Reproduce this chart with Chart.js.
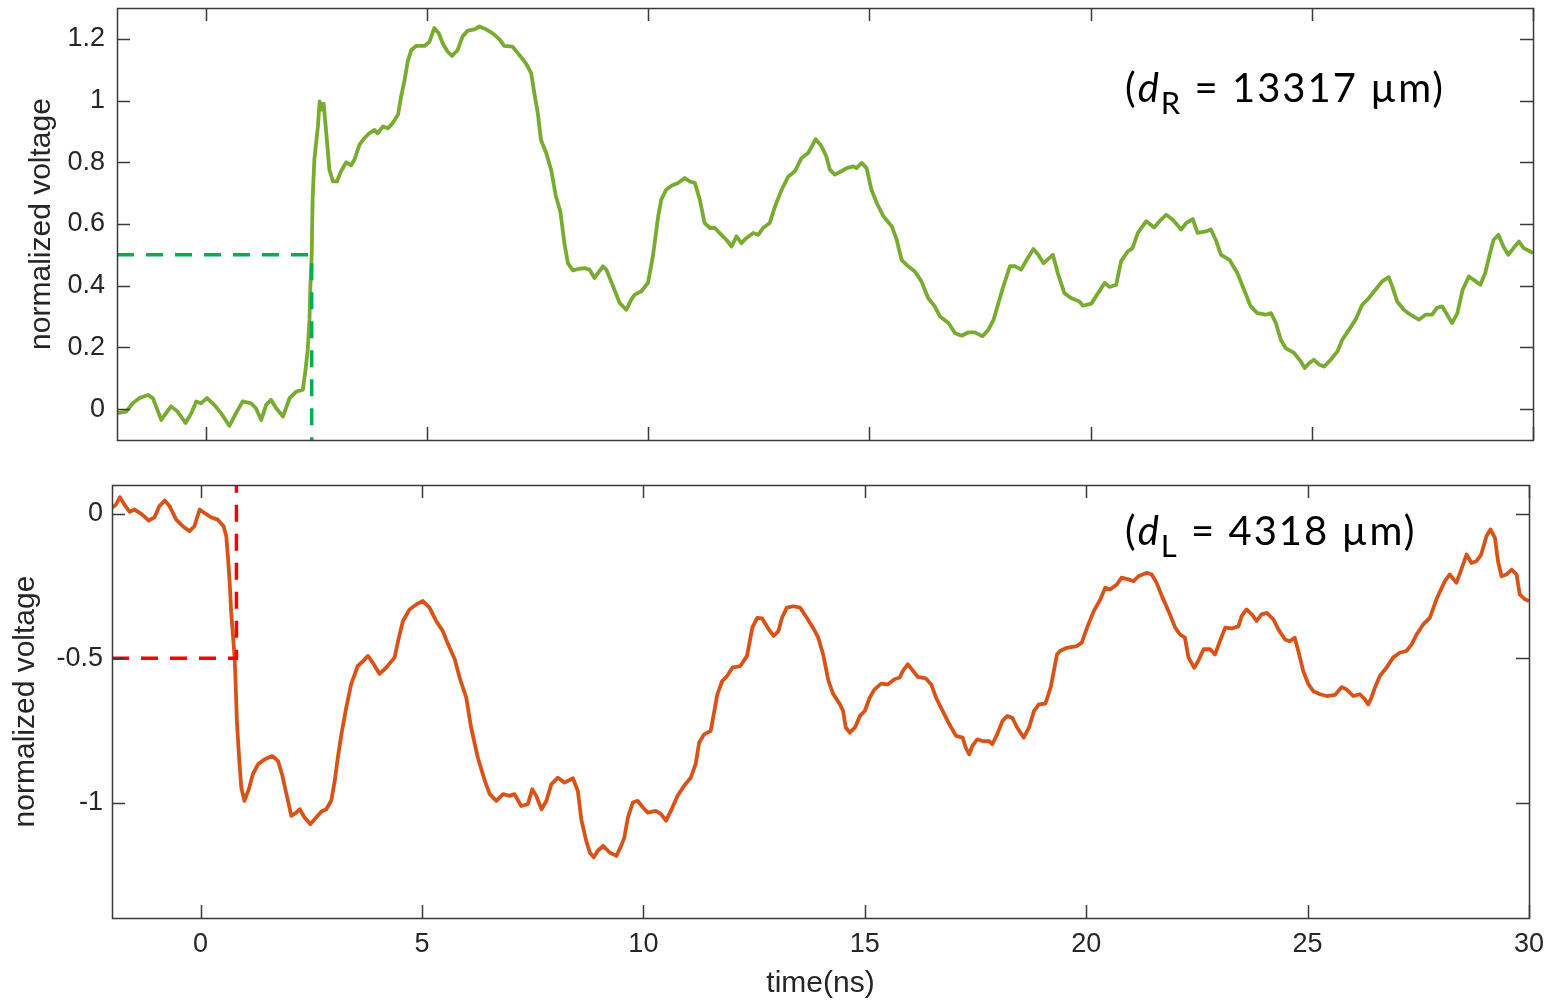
<!DOCTYPE html>
<html>
<head>
<meta charset="utf-8">
<title>Normalized voltage vs time</title>
<script src="https://cdn.jsdelivr.net/npm/chart.js@4/dist/chart.umd.min.js"></script>
<style>
  html, body { margin: 0; padding: 0; background: #ffffff; }
  #wrap { position: relative; width: 1555px; height: 1002px; overflow: hidden; }
  #topBox { position: absolute; left: 0; top: 0; width: 1555px; height: 460px; }
  #botBox { position: absolute; left: 0; top: 460px; width: 1555px; height: 542px; }
</style>
</head>
<body>
<div id="wrap">
  <div id="topBox"><canvas id="topChart" width="1555" height="460"></canvas></div>
  <div id="botBox"><canvas id="botChart" width="1555" height="542"></canvas></div>
</div>
<script>
// ---- right-side receiver trace (ns, normalized V) ----
const topTime = [
  -2.0, -1.79, -1.64, -1.49, -1.30, -1.19, -1.0, -0.89, -0.78, -0.63, -0.45, -0.32, -0.21, -0.10,
  0.03, 0.20, 0.35, 0.54, 0.69, 0.84, 1.03, 1.14, 1.26, 1.37, 1.48, 1.60, 1.75, 1.90, 2.05, 2.20,
  2.26, 2.31, 2.35, 2.37, 2.40, 2.42, 2.46, 2.54, 2.58, 2.64, 2.67, 2.73, 2.80, 2.88, 2.97, 3.06,
  3.18, 3.29, 3.37, 3.48, 3.59, 3.70, 3.82, 3.89, 4.01, 4.12, 4.23, 4.35, 4.42, 4.50, 4.57, 4.65,
  4.76, 4.95, 5.06, 5.17, 5.27, 5.36, 5.47, 5.57, 5.70, 5.81, 5.93, 6.08, 6.19, 6.34, 6.49, 6.64,
  6.75, 6.94, 7.09, 7.24, 7.36, 7.43, 7.51, 7.58, 7.70, 7.81, 7.92, 8.02, 8.11, 8.19, 8.30, 8.45,
  8.57, 8.68, 8.79, 8.98, 9.06, 9.21, 9.36, 9.51, 9.62, 9.70, 9.85, 10.0, 10.11, 10.23, 10.30,
  10.41, 10.53, 10.68, 10.83, 10.94, 11.06, 11.17, 11.28, 11.40, 11.51, 11.66, 11.77, 11.89, 12.0,
  12.11, 12.22, 12.38, 12.49, 12.60, 12.75, 12.87, 13.02, 13.17, 13.32, 13.47, 13.62, 13.79, 13.92,
  14.03, 14.11, 14.22, 14.37, 14.49, 14.64, 14.71, 14.83, 14.94, 15.05, 15.17, 15.32, 15.51, 15.62,
  15.73, 15.88, 16.03, 16.18, 16.33, 16.48, 16.60, 16.79, 16.94, 17.09, 17.24, 17.39, 17.56, 17.69,
  17.81, 17.92, 18.03, 18.18, 18.30, 18.43, 18.56, 18.71, 18.82, 18.94, 19.15, 19.26, 19.41, 19.56,
  19.75, 19.83, 20.02, 20.17, 20.32, 20.43, 20.58, 20.69, 20.84, 20.95, 21.07, 21.26, 21.44, 21.56,
  21.71, 21.86, 22.05, 22.16, 22.31, 22.42, 22.61, 22.72, 22.83, 22.95, 23.14, 23.32, 23.47, 23.62,
  23.77, 23.96, 24.08, 24.19, 24.30, 24.41, 24.60, 24.75, 24.84, 24.94, 25.05, 25.17, 25.28, 25.43,
  25.58, 25.69, 25.84, 25.99, 26.14, 26.29, 26.44, 26.59, 26.74, 26.82, 26.93, 27.08, 27.23, 27.42,
  27.57, 27.72, 27.83, 27.95, 28.06, 28.17, 28.29, 28.41, 28.55, 28.66, 28.81, 28.92, 29.03, 29.11,
  29.22, 29.33, 29.44, 29.56, 29.68, 29.79, 29.94, 30.0
];
const topVoltage = [
  -0.013, -0.008, 0.020, 0.036, 0.046, 0.036, -0.035, -0.013, 0.009, -0.008, -0.045, -0.013, 0.025, 0.019,
  0.036, 0.014, -0.013, -0.054, -0.013, 0.025, 0.019, 0.003, -0.035, 0.014, 0.030, 0.003, -0.024, 0.036, 0.057, 0.063,
  0.127, 0.192, 0.290, 0.397, 0.500, 0.678, 0.808, 0.916, 0.997, 0.970, 0.990, 0.894, 0.776, 0.738, 0.738, 0.770,
  0.800, 0.790, 0.810, 0.857, 0.878, 0.894, 0.905, 0.894, 0.916, 0.910, 0.927, 0.954, 1.013, 1.067, 1.127, 1.164,
  1.177, 1.177, 1.190, 1.235, 1.218, 1.186, 1.159, 1.145, 1.164, 1.208, 1.227, 1.231, 1.240, 1.231, 1.218, 1.199,
  1.177, 1.175, 1.148, 1.121, 1.089, 1.025, 0.959, 0.873, 0.830, 0.776, 0.689, 0.640, 0.538, 0.473, 0.450, 0.455,
  0.457, 0.452, 0.425, 0.463, 0.452, 0.398, 0.344, 0.322, 0.355, 0.371, 0.382, 0.409, 0.495, 0.625, 0.679,
  0.711, 0.724, 0.733, 0.749, 0.738, 0.733, 0.679, 0.603, 0.587, 0.587, 0.565, 0.549, 0.527, 0.560,
  0.538, 0.554, 0.571, 0.565, 0.587, 0.603, 0.657, 0.711, 0.754, 0.771, 0.814, 0.830, 0.875, 0.852,
  0.819, 0.776, 0.760, 0.771, 0.781, 0.787, 0.781, 0.798, 0.781, 0.711, 0.668, 0.625, 0.592, 0.549,
  0.484, 0.463, 0.446, 0.414, 0.360, 0.333, 0.300, 0.279, 0.246, 0.238, 0.249, 0.249, 0.236, 0.257,
  0.290, 0.344, 0.398, 0.463, 0.463, 0.452, 0.484, 0.519, 0.500, 0.473, 0.500, 0.441, 0.376, 0.360,
  0.349, 0.335, 0.342, 0.376, 0.409, 0.396, 0.403, 0.479, 0.511, 0.522, 0.571, 0.609, 0.589, 0.609,
  0.630, 0.614, 0.582, 0.603, 0.616, 0.571, 0.576, 0.582, 0.549, 0.500, 0.484, 0.441, 0.387, 0.333,
  0.311, 0.306, 0.311, 0.279, 0.225, 0.198, 0.182, 0.155, 0.133, 0.149, 0.160, 0.144, 0.138, 0.160,
  0.187, 0.225, 0.257, 0.290, 0.338, 0.360, 0.387, 0.414, 0.428, 0.398, 0.349, 0.322, 0.306, 0.290,
  0.306, 0.306, 0.328, 0.333, 0.306, 0.279, 0.311, 0.387, 0.430, 0.419, 0.403, 0.441, 0.506, 0.549,
  0.565, 0.527, 0.500, 0.522, 0.543, 0.522, 0.511, 0.505
];

// ---- left-side receiver trace (ns, normalized V) ----
const botTime = [
  -2.0, -1.91, -1.82, -1.72, -1.60, -1.49, -1.34, -1.17, -1.04, -0.93, -0.81, -0.70, -0.55, -0.40,
  -0.25, -0.14, -0.02, 0.09, 0.24, 0.39, 0.52, 0.58, 0.62, 0.66, 0.69, 0.73, 0.77, 0.79, 0.82, 0.87,
  0.92, 0.99, 1.09, 1.18, 1.30, 1.45, 1.62, 1.75, 1.84, 1.94, 2.05, 2.16, 2.24, 2.35, 2.48, 2.61,
  2.73, 2.84, 2.95, 3.03, 3.10, 3.18, 3.29, 3.40, 3.55, 3.67, 3.78, 3.89, 4.04, 4.19, 4.38, 4.46,
  4.57, 4.72, 4.87, 5.02, 5.17, 5.32, 5.47, 5.59, 5.74, 5.85, 6.00, 6.11, 6.26, 6.42, 6.53, 6.68,
  6.83, 6.98, 7.09, 7.24, 7.39, 7.49, 7.58, 7.70, 7.81, 7.92, 8.07, 8.22, 8.41, 8.52, 8.60, 8.71,
  8.79, 8.88, 8.97, 9.09, 9.24, 9.39, 9.50, 9.57, 9.65, 9.76, 9.87, 9.99, 10.10, 10.28, 10.40, 10.51,
  10.62, 10.77, 10.92, 11.07, 11.18, 11.26, 11.37, 11.52, 11.59, 11.67, 11.78, 11.89, 12.01, 12.19,
  12.34, 12.46, 12.57, 12.68, 12.83, 12.94, 13.05, 13.13, 13.24, 13.39, 13.54, 13.69, 13.84, 13.95,
  14.06, 14.18, 14.29, 14.44, 14.51, 14.57, 14.66, 14.78, 14.89, 15.00, 15.11, 15.22, 15.37, 15.52,
  15.67, 15.79, 15.86, 15.97, 16.09, 16.20, 16.38, 16.50, 16.61, 16.76, 16.91, 17.06, 17.21, 17.28,
  17.36, 17.43, 17.54, 17.66, 17.81, 17.88, 17.99, 18.11, 18.22, 18.33, 18.44, 18.59, 18.71, 18.82,
  18.93, 19.08, 19.20, 19.34, 19.41, 19.56, 19.79, 19.90, 20.02, 20.17, 20.32, 20.43, 20.54, 20.69,
  20.80, 20.95, 21.07, 21.18, 21.37, 21.48, 21.59, 21.71, 21.86, 22.01, 22.12, 22.23, 22.31, 22.44,
  22.53, 22.65, 22.80, 22.91, 23.02, 23.14, 23.29, 23.44, 23.51, 23.62, 23.74, 23.85, 23.96, 24.08,
  24.23, 24.34, 24.49, 24.60, 24.71, 24.79, 24.90, 25.02, 25.13, 25.28, 25.43, 25.62, 25.77, 25.88,
  26.03, 26.18, 26.29, 26.37, 26.44, 26.52, 26.63, 26.78, 26.93, 27.08, 27.23, 27.35, 27.46, 27.61,
  27.76, 27.91, 28.10, 28.21, 28.36, 28.47, 28.59, 28.70, 28.81, 28.92, 29.04, 29.13, 29.23, 29.30,
  29.38, 29.49, 29.61, 29.72, 29.79, 29.91, 30.0
];
const botVoltage = [
  0.021, 0.032, 0.058, 0.032, 0.007, 0.015, 0.000, -0.023, -0.012, 0.027, 0.046, 0.027, -0.020, -0.043,
  -0.060, -0.043, 0.015, 0.003, -0.012, -0.020, -0.043, -0.077, -0.152, -0.245, -0.337, -0.418, -0.500, -0.579, -0.717, -0.844,
  -0.948, -0.994, -0.954, -0.902, -0.867, -0.850, -0.839, -0.856, -0.902, -0.971, -1.046, -1.035, -1.023, -1.052, -1.075, -1.052,
  -1.031, -1.023, -0.994, -0.925, -0.844, -0.764, -0.671, -0.591, -0.527, -0.510, -0.492, -0.516, -0.554, -0.533, -0.498, -0.441,
  -0.371, -0.331, -0.314, -0.302, -0.325, -0.371, -0.406, -0.452, -0.504, -0.567, -0.637, -0.740, -0.844, -0.925, -0.971, -0.994,
  -0.971, -0.977, -0.971, -1.012, -1.006, -0.954, -0.977, -1.023, -0.994, -0.937, -0.914, -0.931, -0.916, -0.960, -1.060, -1.133,
  -1.173, -1.190, -1.167, -1.150, -1.173, -1.185, -1.150, -1.121, -1.052, -1.000, -0.994, -1.017, -1.035, -1.029, -1.040, -1.063,
  -1.029, -0.977, -0.942, -0.914, -0.867, -0.792, -0.764, -0.752, -0.694, -0.625, -0.579, -0.562, -0.533, -0.527,
  -0.492, -0.394, -0.360, -0.362, -0.400, -0.423, -0.406, -0.360, -0.325, -0.320, -0.325, -0.360, -0.397, -0.429,
  -0.487, -0.579, -0.625, -0.660, -0.683, -0.740, -0.758, -0.740, -0.700, -0.683, -0.637, -0.608, -0.588, -0.591,
  -0.573, -0.567, -0.544, -0.521, -0.544, -0.565, -0.570, -0.591, -0.637, -0.683, -0.729, -0.769, -0.775, -0.810,
  -0.833, -0.804, -0.781, -0.787, -0.787, -0.798, -0.764, -0.717, -0.700, -0.706, -0.740, -0.775, -0.740, -0.683,
  -0.660, -0.657, -0.600, -0.487, -0.475, -0.464, -0.458, -0.446, -0.394, -0.337, -0.296, -0.256, -0.262, -0.245,
  -0.221, -0.227, -0.233, -0.216, -0.204, -0.210, -0.239, -0.285, -0.337, -0.394, -0.418, -0.429, -0.498, -0.533,
  -0.510, -0.469, -0.469, -0.487, -0.441, -0.394, -0.397, -0.389, -0.354, -0.331, -0.348, -0.371, -0.348, -0.343,
  -0.366, -0.400, -0.435, -0.441, -0.429, -0.475, -0.544, -0.591, -0.614, -0.625, -0.631, -0.627, -0.600, -0.608,
  -0.631, -0.625, -0.642, -0.660, -0.637, -0.602, -0.562, -0.533, -0.498, -0.481, -0.475, -0.452, -0.418, -0.383,
  -0.360, -0.296, -0.233, -0.210, -0.239, -0.193, -0.141, -0.170, -0.164, -0.141, -0.077, -0.054, -0.083, -0.164,
  -0.216, -0.210, -0.193, -0.210, -0.279, -0.296, -0.302
];

// ---- half-amplitude crossing markers ----
const topCrossTime = 2.40;
const topCrossLevel = 0.5;
const botCrossTime = 0.81;
const botCrossLevel = -0.5;

// ---- axes ----
const timeRange = [-2, 30];
const timeTicks = [0, 5, 10, 15, 20, 25, 30];
const topRange = [-0.1, 1.3];
const topTicks = [0, 0.2, 0.4, 0.6, 0.8, 1, 1.2];
const botRange = [-1.4, 0.1];
const botTicks = [-1, -0.5, 0];
const timeLabel = 'time(ns)';
const voltLabel = 'normalized voltage';

// ---- distance notes ----
const topNote = { sub: 'R', value: '13317' };
const botNote = { sub: 'L', value: '4318' };

const AXIS_COLOR = '#3a3a3a';
const TEXT_COLOR = '#262626';
const SANS = '"Liberation Sans", Arial, Helvetica, sans-serif';
const NOTE_FONT = 'Lato, "Open Sans", sans-serif';

function toPoints(xs, ys) { return xs.map((t, i) => ({ x: t, y: ys[i] })); }
function fmt(v) { return String(Math.round(v * 10) / 10); }

// box, inward tick marks on all four sides and the distance note
const framePlugin = {
  id: 'frame',
  afterDraw(chart, args, opts) {
    const { ctx, chartArea: a, scales } = chart;
    const xs = scales.x, ys = scales.y;
    const TL = 13;
    ctx.save();
    ctx.strokeStyle = AXIS_COLOR;
    ctx.lineWidth = 1.5;
    ctx.beginPath();
    opts.xTicks.forEach(v => {
      const px = Math.round(xs.getPixelForValue(v)) + 0.5;
      ctx.moveTo(px, a.bottom); ctx.lineTo(px, a.bottom - TL);
      ctx.moveTo(px, a.top); ctx.lineTo(px, a.top + TL);
    });
    opts.yTicks.forEach(v => {
      const py = Math.round(ys.getPixelForValue(v)) + 0.5;
      ctx.moveTo(a.left, py); ctx.lineTo(a.left + TL, py);
      ctx.moveTo(a.right, py); ctx.lineTo(a.right - TL, py);
    });
    ctx.stroke();
    ctx.strokeRect(Math.round(a.left) + 0.5, Math.round(a.top) + 0.5,
                   Math.round(a.right - a.left), Math.round(a.bottom - a.top));

    // note: (d_sub = value µm)
    const n = opts.note;
    const size = opts.noteSize;
    let x = opts.noteX, y = opts.noteY;
    ctx.fillStyle = '#000000';
    ctx.textAlign = 'left';
    ctx.textBaseline = 'alphabetic';
    ctx.letterSpacing = '2px';
    ctx.font = `${size}px ${NOTE_FONT}`;
    ctx.fillText('(', x, y); x += ctx.measureText('(').width;
    ctx.font = `italic ${size}px ${NOTE_FONT}`;
    ctx.fillText('d', x, y); x += ctx.measureText('d').width;
    ctx.font = `${Math.round(size * 0.78)}px ${NOTE_FONT}`;
    ctx.fillText(n.sub, x, y + size * 0.3); x += ctx.measureText(n.sub).width;
    ctx.font = `${size}px ${NOTE_FONT}`;
    ctx.fillText(' = ' + n.value + ' \u00B5m)', x, y);
    ctx.restore();
  }
};

function makeChart(id, cfg) {
  const yTickFont = { family: SANS, size: 27 };
  return new Chart(document.getElementById(id), {
    type: 'line',
    data: {
      datasets: [
        {
          data: toPoints(cfg.guideX, cfg.guideY),
          borderColor: cfg.guideColor,
          borderWidth: 3.5,
          borderDash: [17, 12],
          pointRadius: 0,
          tension: 0,
          fill: false
        },
        {
          data: toPoints(cfg.time, cfg.volt),
          borderColor: cfg.color,
          borderWidth: 3.8,
          borderJoinStyle: 'round',
          pointRadius: 0,
          tension: 0,
          fill: false
        }
      ]
    },
    options: {
      responsive: false,
      devicePixelRatio: 1,
      animation: false,
      events: [],
      layout: { padding: cfg.padding },
      plugins: {
        legend: { display: false },
        tooltip: { enabled: false },
        frame: { xTicks: timeTicks, yTicks: cfg.yTicks, note: cfg.note,
                 noteX: cfg.noteX, noteY: cfg.noteY, noteSize: cfg.noteSize }
      },
      scales: {
        x: {
          type: 'linear',
          min: timeRange[0], max: timeRange[1],
          afterBuildTicks: s => { s.ticks = timeTicks.map(v => ({ value: v })); },
          ticks: { display: cfg.showTime, font: { family: SANS, size: 27 }, color: TEXT_COLOR,
                   padding: 10, maxRotation: 0, callback: v => fmt(v) },
          grid: { display: false, drawTicks: false },
          border: { display: false },
          title: { display: cfg.showTime, text: timeLabel, color: TEXT_COLOR,
                   font: { family: SANS, size: 30 }, padding: { top: 0, bottom: 0 } },
          afterFit: s => { s.height = cfg.xHeight; s.paddingLeft = 0; s.paddingRight = 0; }
        },
        y: {
          type: 'linear',
          min: cfg.yRange[0], max: cfg.yRange[1],
          afterBuildTicks: s => { s.ticks = cfg.yTicks.map(v => ({ value: v })); },
          ticks: { font: yTickFont, color: TEXT_COLOR, padding: cfg.yPad, callback: v => fmt(v) },
          grid: { display: false, drawTicks: false },
          border: { display: false },
          title: { display: true, text: voltLabel, color: TEXT_COLOR,
                   font: { family: SANS, size: 30 }, padding: { top: cfg.titlePad, bottom: 0 } },
          afterFit: s => { s.width = cfg.yWidth; s.paddingTop = 0; s.paddingBottom = 0; }
        }
      }
    },
    plugins: [framePlugin]
  });
}

makeChart('topChart', {
  time: topTime, volt: topVoltage, color: '#77AC30',
  guideX: [timeRange[0], topCrossTime, topCrossTime],
  guideY: [topCrossLevel, topCrossLevel, topRange[0]],
  guideColor: '#00B050',
  yRange: topRange, yTicks: topTicks, yWidth: 117, yPad: 12, titlePad: 24,
  xHeight: 20, showTime: false,
  padding: { top: 8, right: 22, left: 0, bottom: 0 },
  note: topNote, noteX: 1125, noteY: 102, noteSize: 40
});

makeChart('botChart', {
  time: botTime, volt: botVoltage, color: '#D95319',
  guideX: [timeRange[0], botCrossTime, botCrossTime],
  guideY: [botCrossLevel, botCrossLevel, botRange[1]],
  guideColor: '#FF0000',
  yRange: botRange, yTicks: botTicks, yWidth: 112, yPad: 9, titlePad: 8,
  xHeight: 84, showTime: true,
  padding: { top: 25, right: 26, left: 0, bottom: 0 },
  note: botNote, noteX: 1125, noteY: 85, noteSize: 40
});
</script>
</body>
</html>
